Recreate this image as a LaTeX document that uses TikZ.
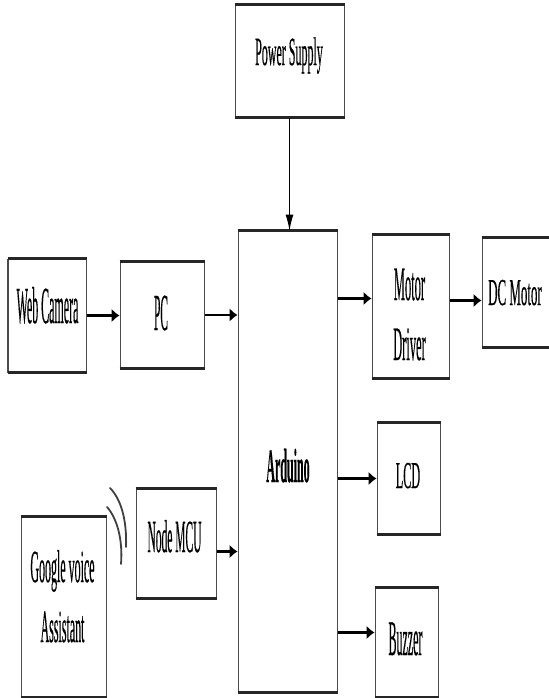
\documentclass[tikz,border=0pt]{standalone}
\usepackage{fontspec}
\setmainfont{Liberation Serif}[FakeBold=0.6]
\usetikzlibrary{arrows.meta,fit}

\newcommand{\sq}[2]{\scalebox{#1}[1]{#2}}

\tikzset{
	blk/.style={draw=black!70, line width=.5pt, inner sep=0pt, fit={#1}},
	txt/.style={anchor=base, inner sep=0pt},
	rim/.style={black!85, line width=1.3pt},
	flow/.style={line width=1.2pt, -{Latex[length=4pt,width=7pt]}},
	feed/.style={line width=.5pt, -{Latex[length=8pt,width=4pt]}},
	wave/.style={black!75, line width=.9pt, line cap=round}
}

\begin{document}
\begin{tikzpicture}[x=.5pt,y=-.5pt]
	\clip (0,0) rectangle (549,698);
	% blocks
	\node[blk={(235,5) (344,117)}] (ps) {};
	\node[blk={(238,231) (337,692)}] (ard) {};
	\node[blk={(372,235) (449,378)}] (md) {};
	\node[blk={(482,238) (556,347)}] (dc) {};
	\node[blk={(377,423) (440,534)}] (lcd) {};
	\node[blk={(375,588) (438,697)}] (buz) {};
	\node[blk={(8,259) (86,372)}] (wc) {};
	\node[blk={(120,262) (204,368)}] (pc) {};
	\node[blk={(136,489) (216,598)}] (mcu) {};
	\node[blk={(21,517) (106,697)}] (gva) {};

	% heavy top and bottom edges
	\foreach \n in {ps,ard,md,dc,lcd,buz,wc,pc,mcu,gva}
		\draw[rim] (\n.north west) -- (\n.north east)
			(\n.south west) -- (\n.south east);

	% labels
	\node[txt,font=\fontsize{20}{25}\selectfont] (ps-t) at (289,65)
		{\sq{.30}{Power Supply}};
	\node[txt,font=\fontsize{24}{30}\bfseries] (ard-t) at (288,482)
		{\sq{.25}{Arduino}};
	\node[txt,font=\fontsize{24}{30}\selectfont] (md-t) at (409.5,300)
		{\sq{.26}{Motor}};
	\node[txt,font=\fontsize{24}{30}\selectfont] (md-b) at (409.5,360)
		{\sq{.26}{Driver}};
	\node[txt,font=\fontsize{19}{24}\selectfont] (dc-t) at (515,305)
		{\sq{.34}{DC Motor}};
	\node[txt,font=\fontsize{19}{24}\selectfont] (lcd-t) at (408,488)
		{\sq{.32}{LCD}};
	\node[txt,font=\fontsize{25}{30}\selectfont] (buz-t) at (405.5,655)
		{\sq{.24}{Buzzer}};
	\node[txt,font=\fontsize{26}{32}\selectfont] (wc-t) at (47.5,323)
		{\sq{.23}{Web Camera}};
	\node[txt,font=\fontsize{26}{32}\selectfont] (pc-t) at (161,330)
		{\sq{.22}{PC}};
	\node[txt,font=\fontsize{23}{28}\selectfont] (mcu-t) at (174.5,552)
		{\sq{.25}{Node MCU}};
	\node[txt,font=\fontsize{23}{28}\selectfont] (gva-t) at (62.5,582)
		{\sq{.26}{Google voice}};
	\node[txt,font=\fontsize{23}{28}\selectfont] (gva-b) at (62.5,642)
		{\sq{.26}{Assistant}};

	% connections
	\draw[feed] (ps.south) -- (ps.south |- ard.north);
	\draw[flow] (wc.east) -- (wc.east -| pc.west);
	\draw[flow] (pc.east) -- (pc.east -| ard.west);
	\draw[flow] ([yshift=-4pt]mcu.east) -- ([yshift=-4pt]mcu.east -| ard.west);
	\draw[flow] ([yshift=4pt]md.west -| ard.east) -- ([yshift=4pt]md.west);
	\draw[flow] ([yshift=3pt]md.east) -- ([yshift=3pt]md.east -| dc.west);
	\draw[flow] (lcd.west -| ard.east) -- (lcd.west);
	\draw[flow] ([yshift=5pt]buz.west -| ard.east) -- ([yshift=5pt]buz.west);

	% wireless link
	\draw[wave] (110,488) .. controls (121,499) and (127,520) .. (126,547);
	\draw[wave] (107,507) .. controls (117,518) and (123,540) .. (121,564);
\end{tikzpicture}
\end{document}
